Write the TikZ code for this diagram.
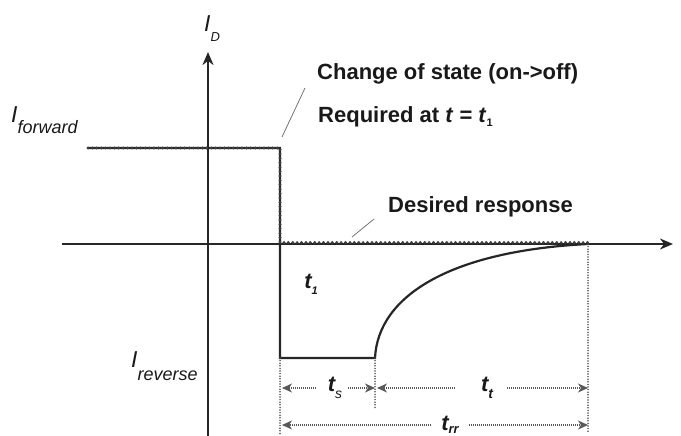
\documentclass[tikz,border=0pt]{standalone}
\usepackage{fontspec}
\setmainfont{Liberation Sans}
\usetikzlibrary{arrows.meta}
\usetikzlibrary{math}

\newcommand{\fs}[1]{\fontsize{#1}{#1}\selectfont}

\tikzset{
  axis/.style={line width=1.8pt, black!85, -{Stealth[length=13pt,width=11pt,inset=4pt]}},
  resp/.style={line width=2.2pt, black!85, line join=miter},
  ideal/.style={line width=3.2pt, black!75, dash pattern=on 0pt off 4.4pt, line cap=round},
  guide/.style={line width=1.7pt, black!70, dash pattern=on 0pt off 2.6pt, line cap=round},
  dim/.style={line width=1.1pt, black!65, dash pattern=on 1pt off 1pt, -{Stealth[length=10pt,width=9pt,inset=3pt]}},
  leader/.style={line width=0.8pt, black!55},
  note/.style={font=\fs{22}\bfseries, text=black!90, anchor=base west, inner sep=0pt},
  curlbl/.style={font=\fs{23}\itshape, text=black!90, anchor=base west, inner sep=0pt},
  tlbl/.style={font=\fs{22}\bfseries\itshape, text=black!90, inner sep=0pt},
}

\begin{document}
\begin{tikzpicture}[x=1pt,y=-1pt]
\tikzmath{
\xa=62; \xl=88; \xo=208; \xs=280; \xb=375; \xe=588; \xr=673;
\yf=148; \yo=244; \yr=358; \yd=388; \yt=425; \ytop=52; \ybot=436;
}
\useasboundingbox (0,0) rectangle (681,436);

% points of the response
\coordinate (axb) at (\xo,\ybot);
\coordinate (axt) at (\xo,\ytop);
\coordinate (taxl) at (\xa,\yo);
\coordinate (taxr) at (\xr,\yo);
\coordinate (fwd) at (\xl,\yf);
\coordinate (off) at (\xs,\yf);
\coordinate (sw) at (\xs,\yo-1.5);
\coordinate (rev) at (\xs,\yr);
\coordinate (tse) at (\xb,\yr);
\coordinate (rec) at (\xe,\yo);
\coordinate (recd) at (\xe,\yo-1.5);

% foot points of the guides
\coordinate (g1) at (\xs,\ybot);
\coordinate (g2) at (\xb,410);
\coordinate (g3) at (\xe,433);
\coordinate (tsl) at (\xs+2,\yd);
\coordinate (tsr) at (\xb,\yd);
\coordinate (ttl) at (\xb+2,\yd);
\coordinate (ttr) at (\xe,\yd);
\coordinate (trl) at (\xs+2,\yt);
\coordinate (trr) at (\xe,\yt);

% axes
\draw[axis] (axb) -- (axt);
\draw[axis] (taxl) -- (taxr);

% actual and desired response
\draw[resp] (fwd) -- (off) -- (rev) -- (tse) .. controls (\xb+3,296) and (450,251) .. (rec);
\draw[ideal] (fwd) -- (off) -- (sw) -- (recd);

\draw[guide] (rev) -- (g1);
\draw[guide] (tse) -- (g2);
\draw[guide] (rec) -- (g3);

% labels
\node[curlbl] (iD) at (204,32) {I\raisebox{-10pt}{\fs{13}D}};
\node[curlbl] (ifwd) at (11,123) {I\raisebox{-10pt}{\fs{18}forward}};
\node[curlbl] (irev) at (131,367) {I\raisebox{-13pt}{\fs{18}reverse}};

\node[note] (chg) at (317,80) {Change of state (on->off)};
\node[note] (req) at (318,122) {Required at \textit{t} = \textit{t}\raisebox{-5pt}{\fs{11}1}};
\node[note] (des) at (388,212) {Desired response};

\coordinate (ld1a) at (282,137);
\coordinate (ld1b) at (305,88);
\coordinate (ld2a) at (352,237);
\coordinate (ld2b) at (374,219);
\draw[leader] (ld1a) -- (ld1b);
\draw[leader] (ld2a) -- (ld2b);

\node[tlbl] (t1) at (311,284) {t\raisebox{-6pt}{\fs{11}1}};
\node[tlbl] (ts) at (335,\yd) {t\raisebox{-7pt}{\fs{14}\mdseries s}};
\node[tlbl] (tt) at (487,\yd) {t\raisebox{-7pt}{\fs{14}t}};
\node[tlbl, anchor=base] (trrl) at (450,430) {t\raisebox{-3pt}{\fs{13}rr}};

% time intervals
\draw[dim, shorten <=12pt] (ts.west |- tsl) -- (tsl);
\draw[dim, shorten <=6pt] (ts.east |- tsr) -- (tsr);
\draw[dim, shorten <=26pt] (tt.west |- ttl) -- (ttl);
\draw[dim, shorten <=14pt] (tt.east |- ttr) -- (ttr);
\draw[dim, shorten <=10pt] (trrl.west |- trl) -- (trl);
\draw[dim, shorten <=10pt] (trrl.east |- trr) -- (trr);
\end{tikzpicture}
\end{document}
